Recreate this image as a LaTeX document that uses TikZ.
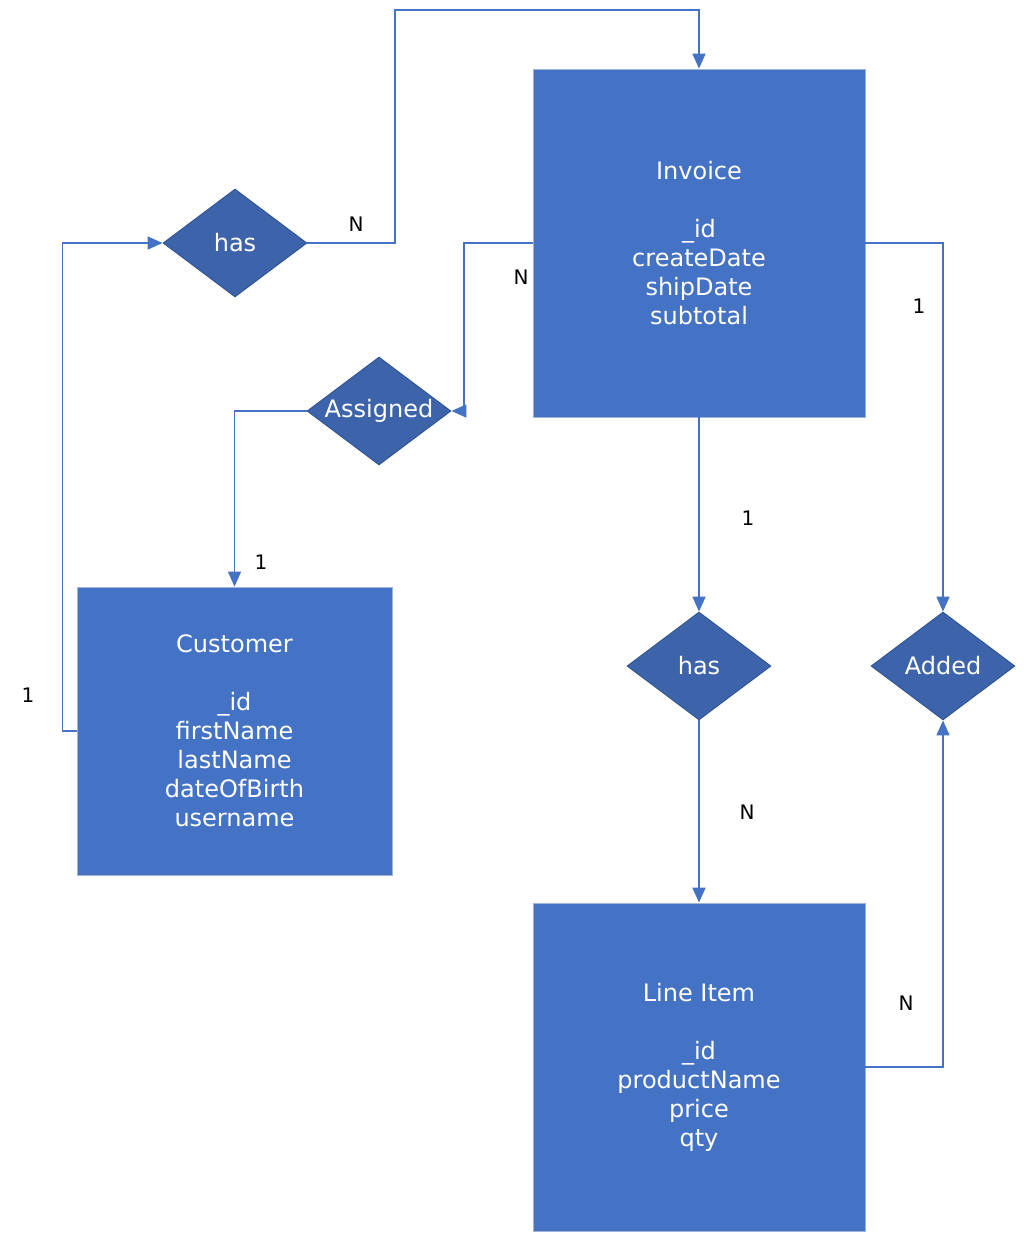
\documentclass[tikz,border=0pt]{standalone}
\usepackage{fontspec}
\setmainfont{DejaVu Sans}
\usetikzlibrary{shapes.geometric,arrows.meta}
\definecolor{entfill}{RGB}{68,114,196}
\definecolor{entdraw}{RGB}{160,180,215}
\definecolor{relfill}{RGB}{61,99,171}
\definecolor{reldraw}{RGB}{47,82,143}
\definecolor{linecol}{RGB}{68,114,196}
\tikzset{
  entity/.style={rectangle, fill=entfill, draw=entdraw, line width=0.8pt, text=white, align=center,
    font=\fontsize{24}{29}\selectfont, inner sep=0pt},
  relation/.style={diamond, fill=relfill, draw=reldraw, line width=0.8pt, text=white, aspect=1.333,
    minimum width=144pt, minimum height=108pt, inner sep=0pt, font=\fontsize{24}{29}\selectfont},
  conn/.style={draw=linecol, line width=1.6pt, -{Triangle[length=15pt,width=13pt]}},
  card/.style={font=\fontsize{20}{24}\selectfont, text=black, inner sep=0pt}
}
\begin{document}
\begin{tikzpicture}[x=1pt,y=-1pt]
\useasboundingbox (0,0) rectangle (1026,1243);
\fill[white] (0,0) rectangle (1026,1243);
% entities
\node[entity, minimum width=332pt, minimum height=348pt] (inv) at (699,243)
  {Invoice\\[29pt]\_id\\createDate\\shipDate\\subtotal};
\node[entity, minimum width=315pt, minimum height=288pt] (cust) at (234.5,731)
  {Customer\\[29pt]\_id\\firstName\\lastName\\dateOfBirth\\username};
\node[entity, minimum width=332pt, minimum height=328pt] (li) at (699,1067)
  {Line Item\\[29pt]\_id\\productName\\price\\qty};
% relationships
\node[relation] (has1) at (235,243) {has};
\node[relation] (asg) at (379,411) {Assigned};
\node[relation] (has2) at (699,666) {has};
\node[relation] (add) at (943,666) {Added};
% connectors
\draw[conn] (cust.west) -- ++(-14,0) |- (has1.west);
\draw[conn] (has1.east) -- (395,243) -- (395,10) -| (inv.north);
\draw[conn] (inv.west) -- (464,243) |- (asg.east);
\draw[conn] (asg.west) -| (cust.north);
\draw[conn] (inv.south) -- (has2.north);
\draw[conn] (has2.south) -- (li.north);
\draw[conn] (inv.east) -| (add.north);
\draw[conn] (li.east) -| (add.south);
% cardinalities
\node[card] (c1) at (28,695) {1};
\node[card] (c2) at (356,224) {N};
\node[card] (c3) at (521,277) {N};
\node[card] (c4) at (261,562) {1};
\node[card] (c5) at (748,518) {1};
\node[card] (c6) at (747,812) {N};
\node[card] (c7) at (919,306) {1};
\node[card] (c8) at (906,1003) {N};
\end{tikzpicture}
\end{document}
